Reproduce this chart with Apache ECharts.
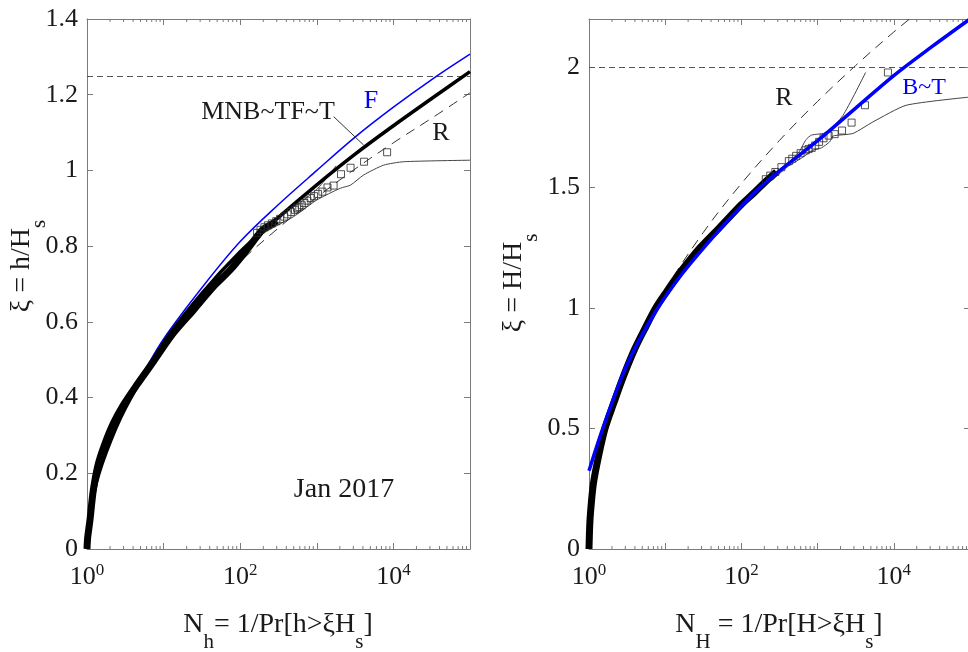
<!DOCTYPE html>
<html>
<head>
<meta charset="utf-8">
<script src="https://cdn.jsdelivr.net/npm/echarts@6/dist/echarts.min.js"></script>
<style>
  html, body { margin: 0; padding: 0; background: #fff; overflow: hidden; }
  #chart { width: 975px; height: 652px; }
</style>
</head>
<body>
<div id="chart"></div>
<script>
// ---------------- data ----------------
// Left panel: crest heights xi = h/Hs versus return period N_h (Jan 2017)
const crestBandN  = [1, 1.02, 1.094, 1.21, 1.41, 1.72, 2.21, 2.98, 4.46, 7.36, 13.4, 24.5, 44.8, 74, 122, 165, 200, 251, 302];
const crestBandXi = [0, 0.03, 0.077, 0.156, 0.226, 0.279, 0.332, 0.38, 0.433, 0.495, 0.57, 0.631, 0.693, 0.737, 0.79, 0.825, 0.845, 0.857, 0.867];
const crestTailN  = [166, 184, 207, 230, 259, 296, 331, 376, 414, 460, 518, 552, 591, 637, 690, 753, 828, 920, 1035, 1183, 1380, 1656, 2070, 2760, 4140, 8280];
const crestTailXi = [0.835, 0.843, 0.85, 0.855, 0.86, 0.866, 0.872, 0.878, 0.884, 0.89, 0.896, 0.9, 0.903, 0.908, 0.914, 0.92, 0.927, 0.932, 0.938, 0.944, 0.955, 0.96, 0.99, 1.007, 1.023, 1.048];
const crestUpperN  = [151, 316, 631, 1000, 1413, 1778];
const crestUpperXi = [0.83, 0.878, 0.918, 0.95, 0.985, 1.012];
const crestLowerN  = [151, 202, 498, 1000, 2028, 2742, 4093, 7464, 13650, 100000];
const crestLowerXi = [0.805, 0.834, 0.878, 0.922, 0.953, 0.961, 0.988, 1.014, 1.023, 1.027];
const crestRayN  = [1, 1.3, 1.778, 3.162, 10, 31.62, 100, 316.2, 1000, 3162, 10000, 31620, 100000];
const crestRayXi = [0, 0.181, 0.268, 0.379, 0.536, 0.657, 0.759, 0.848, 0.929, 1.004, 1.073, 1.138, 1.205];
const crestFN  = [1, 1.122, 1.259, 1.778, 3.162, 5.623, 10, 31.62, 100, 316.2, 1000, 3162, 10000, 31620, 100000];
const crestFXi = [0, 0.109, 0.158, 0.26, 0.378, 0.47, 0.555, 0.69, 0.812, 0.91, 1.0, 1.088, 1.167, 1.24, 1.307];
const crestMnbN  = [1, 1.259, 1.778, 3.162, 10, 31.62, 100, 316.2, 1000, 3162, 10000, 31620, 100000];
const crestMnbXi = [0, 0.155, 0.255, 0.372, 0.545, 0.675, 0.785, 0.876, 0.962, 1.043, 1.118, 1.19, 1.261];
const crestThreshold = 1.25;
const mnbLeaderN  = [1660, 4090];
const mnbLeaderXi = [1.142, 1.067];

// Right panel: wave heights xi = H/Hs versus return period N_H
const waveBandN  = [1, 1.023, 1.052, 1.14, 1.324, 1.622, 2.084, 2.818, 3.981, 5.623, 7.499, 10, 15.85, 28.51, 50.12, 100, 142.6, 199.5, 288.4];
const waveBandXi = [0, 0.1, 0.16, 0.27, 0.38, 0.5, 0.6, 0.715, 0.83, 0.925, 1.0, 1.06, 1.15, 1.25, 1.33, 1.43, 1.475, 1.52, 1.565];
const waveTailN  = [209, 239, 279, 335, 419, 465, 523, 598, 698, 761, 838, 931, 1047, 1196, 1396, 1675, 2094, 2792, 4188, 8375];
const waveTailXi = [1.535, 1.55, 1.565, 1.585, 1.61, 1.62, 1.632, 1.643, 1.655, 1.66, 1.665, 1.675, 1.69, 1.705, 1.716, 1.722, 1.737, 1.77, 1.842, 1.978];
const waveUpperN  = [251, 398, 562, 708, 832, 1303, 2153, 4266];
const waveUpperXi = [1.55, 1.6, 1.645, 1.7, 1.718, 1.729, 1.8, 1.978];
const waveLowerN  = [251, 398, 631, 871, 1122, 1439, 1585, 2911, 5333, 14590, 100000];
const waveLowerXi = [1.53, 1.585, 1.625, 1.655, 1.665, 1.69, 1.714, 1.725, 1.773, 1.842, 1.876];
const waveRayN  = [1, 1.3, 1.778, 3.162, 10, 31.62, 100, 316.2, 1000, 3162, 10000, 31620];
const waveRayXi = [0, 0.362, 0.536, 0.759, 1.073, 1.314, 1.517, 1.696, 1.858, 2.007, 2.146, 2.275];
const waveBtN  = [1, 1.514, 2.818, 4.467, 7.709, 12.59, 21.09, 57.54, 158.5, 316.2, 1000, 3162, 10000, 31620, 100000];
const waveBtXi = [0.325, 0.5, 0.73, 0.862, 0.992, 1.091, 1.182, 1.341, 1.488, 1.57, 1.695, 1.83, 1.965, 2.085, 2.2];
const waveThreshold = 2.0;

// Axis ticks
const xLabelExponents = [0, 2, 4];
const minorTickValues = [
  2, 3, 4, 5, 6, 7, 8, 9,
  20, 30, 40, 50, 60, 70, 80, 90,
  200, 300, 400, 500, 600, 700, 800, 900,
  2000, 3000, 4000, 5000, 6000, 7000, 8000, 9000,
  20000, 30000, 40000, 50000, 60000, 70000, 80000, 90000
];

// ---------------- styling ----------------
const FONT = 'Liberation Serif';
const TEXT = '#1a1a1a';
const AXIS = '#7a7a7a';
const BLUE = '#0000ff';

const pairs = (xs, ys) => xs.map((x, i) => [x, ys[i]]);

function logAxis(gridIndex, position, withLabels) {
  return {
    type: 'log', logBase: 10, gridIndex, position, min: 1, max: 100000,
    axisLine: { show: true, onZero: false, lineStyle: { color: AXIS, width: 1 } },
    axisTick: { show: true, inside: true, length: 6, lineStyle: { color: AXIS } },
    minorTick: { show: false },
    splitLine: { show: false },
    axisLabel: withLabels ? {
      show: true, margin: 13,
      formatter: v => {
        const e = Math.round(Math.log10(v));
        return xLabelExponents.includes(e) ? '{b|10}{e|' + e + '}' : '';
      },
      rich: {
        b: { fontFamily: FONT, fontSize: 26, color: TEXT, lineHeight: 30 },
        e: { fontFamily: FONT, fontSize: 17, color: TEXT, lineHeight: 17, verticalAlign: 'top' }
      }
    } : { show: false }
  };
}

function valueAxis(gridIndex, position, max, interval, withLabels) {
  return {
    type: 'value', gridIndex, position, min: 0, max, interval,
    axisLine: { show: true, onZero: false, lineStyle: { color: AXIS, width: 1 } },
    axisTick: { show: true, inside: true, length: 6, lineStyle: { color: AXIS } },
    splitLine: { show: false },
    axisLabel: withLabels ? {
      show: true, margin: 9, fontFamily: FONT, fontSize: 26, color: TEXT,
      showMaxLabel: max === 1.4
    } : { show: false }
  };
}

function minorTicks(axisIndex) {
  return {
    type: 'custom', xAxisIndex: axisIndex, yAxisIndex: axisIndex, silent: true, clip: false, z: 6,
    data: minorTickValues.map(v => [v, 0]),
    renderItem(params, api) {
      const cs = params.coordSys;
      const x = api.coord([api.value(0), 0])[0];
      const yb = cs.y + cs.height, yt = cs.y;
      return {
        type: 'group',
        children: [
          { type: 'line', shape: { x1: x, y1: yb, x2: x, y2: yb - 3 }, style: { stroke: AXIS, lineWidth: 1 } },
          { type: 'line', shape: { x1: x, y1: yt, x2: x, y2: yt + 3 }, style: { stroke: AXIS, lineWidth: 1 } }
        ]
      };
    }
  };
}

function curve(axisIndex, xs, ys, lineStyle, z, smooth) {
  return {
    type: 'line', xAxisIndex: axisIndex, yAxisIndex: axisIndex, data: pairs(xs, ys),
    showSymbol: false, symbol: 'none', silent: true, smooth: smooth === undefined ? 0.35 : smooth,
    lineStyle, z
  };
}

function squares(axisIndex, xs, ys) {
  return {
    type: 'scatter', xAxisIndex: axisIndex, yAxisIndex: axisIndex, data: pairs(xs, ys),
    symbol: 'rect', symbolSize: 7, silent: true, z: 8,
    itemStyle: { color: 'rgba(255,255,255,0)', borderColor: '#2a2a2a', borderWidth: 1 }
  };
}

function thresholdLine(axisIndex, value) {
  return {
    type: 'line', xAxisIndex: axisIndex, yAxisIndex: axisIndex, data: [], silent: true, z: 2,
    markLine: {
      silent: true, symbol: 'none', animation: false, label: { show: false },
      lineStyle: { color: '#555', width: 1, type: [6, 4] },
      data: [{ yAxis: value }]
    }
  };
}

const titleRich = {
  m: { fontFamily: FONT, fontSize: 28, fill: TEXT, color: TEXT, lineHeight: 30, verticalAlign: 'top' },
  s: { fontFamily: FONT, fontSize: 21, fill: TEXT, color: TEXT, lineHeight: 62 }
};

function label(x, y, text, size, color) {
  return {
    type: 'text', x, y, silent: true,
    style: {
      text, fill: color, font: size + 'px "' + FONT + '"',
      align: 'center', verticalAlign: 'middle', textAlign: 'center', textVerticalAlign: 'middle'
    }
  };
}

function richTitle(x, y, text, rotation) {
  return {
    type: 'text', x, y, rotation, silent: true,
    style: {
      text, rich: titleRich, fill: TEXT, font: '28px "' + FONT + '"',
      align: 'center', verticalAlign: 'middle', textAlign: 'center', textVerticalAlign: 'middle'
    }
  };
}

const chart = echarts.init(document.getElementById('chart'), null, { renderer: 'canvas' });

const option = {
  animation: false,
  backgroundColor: '#ffffff',
  grid: [
    { left: 87, top: 19, width: 383, height: 530 },
    { left: 589, top: 19, width: 381, height: 530 }
  ],
  xAxis: [
    logAxis(0, 'bottom', true),
    logAxis(0, 'top', false),
    logAxis(1, 'bottom', true),
    logAxis(1, 'top', false)
  ],
  yAxis: [
    valueAxis(0, 'left', 1.4, 0.2, true),
    valueAxis(0, 'right', 1.4, 0.2, false),
    valueAxis(1, 'left', 2.2, 0.5, true),
    valueAxis(1, 'right', 2.2, 0.5, false)
  ],
  series: [
    // left panel
    minorTicks(0),
    thresholdLine(0, crestThreshold),
    curve(0, crestRayN, crestRayXi, { color: '#333', width: 1, type: [10, 7] }, 3),
    curve(0, crestLowerN, crestLowerXi, { color: '#444', width: 1 }, 4, 0.2),
    curve(0, crestUpperN, crestUpperXi, { color: '#444', width: 1 }, 4, 0.2),
    curve(0, crestFN, crestFXi, { color: BLUE, width: 1.5 }, 5),
    curve(0, crestMnbN, crestMnbXi, { color: '#000', width: 3.5 }, 6),
    curve(0, crestBandN, crestBandXi, { color: '#000', width: 7 }, 7, 0.3),
    squares(0, crestTailN, crestTailXi),
    curve(0, mnbLeaderN, mnbLeaderXi, { color: '#333', width: 1 }, 9, false),
    // right panel
    minorTicks(2),
    thresholdLine(2, waveThreshold),
    curve(2, waveRayN, waveRayXi, { color: '#333', width: 1, type: [10, 7] }, 3),
    curve(2, waveLowerN, waveLowerXi, { color: '#444', width: 1 }, 4, 0.2),
    curve(2, waveUpperN, waveUpperXi, { color: '#444', width: 1 }, 4, 0.2),
    curve(2, waveBandN, waveBandXi, { color: '#000', width: 7 }, 7, 0.3),
    squares(2, waveTailN, waveTailXi),
    curve(2, waveBtN, waveBtXi, { color: BLUE, width: 3.5 }, 9)
  ],
  graphic: [
    label(371, 101, 'F', 26, BLUE),
    label(268, 112, 'MNB~TF~T', 26, TEXT),
    label(441, 133, 'R', 26, TEXT),
    label(344, 490, 'Jan 2017', 28, TEXT),
    label(784, 98, 'R', 26, TEXT),
    label(924, 88, 'B~T', 24, BLUE),
    richTitle(278, 642, '{m|N}{s|h}{m|= 1/Pr[h>ξH}{s|s}{m|]}', 0),
    richTitle(779, 642, '{m|N}{s|H}{m| = 1/Pr[H>ξH}{s|s}{m|]}', 0),
    richTitle(39, 266, '{m|ξ = h/H}{s|s}', Math.PI / 2),
    richTitle(531, 283, '{m|ξ = H/H}{s|s}', Math.PI / 2)
  ]
};

chart.setOption(option);
</script>
</body>
</html>
